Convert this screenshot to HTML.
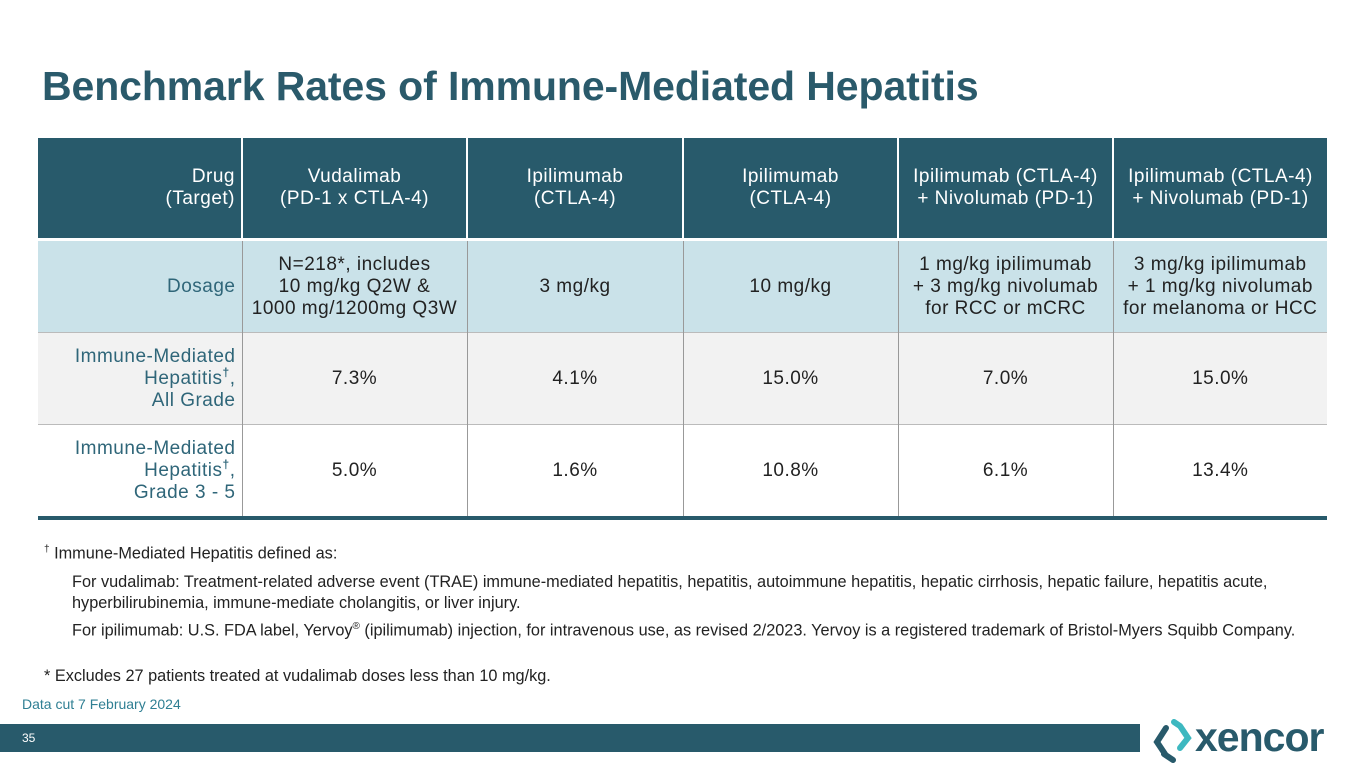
<!DOCTYPE html>
<html><head><meta charset="utf-8"><style>
body{margin:0;width:1365px;height:768px;position:relative;background:#fff;font-family:"Liberation Sans",sans-serif;overflow:hidden}
.a{position:absolute}
.title{left:42px;top:63px;font-size:41px;font-weight:bold;color:#2a5a6b;letter-spacing:-0.1px}
table{position:absolute;left:38px;top:138px;border-collapse:collapse;table-layout:fixed;width:1289px}
td{font-size:19px;text-align:center;color:#222;padding:0 6px;line-height:22px;letter-spacing:0.5px}
tr.h td{background:#285a6b;color:#fff;height:100px;border-left:2px solid #fff}
tr.h td:first-child{border-left:none}
tr.d td{background:#cae2e9;height:91px;border-left:1px solid #999;border-top:3px solid #fff}
tr.r td{background:#f2f2f2;height:91px;border-left:1px solid #999;border-top:1px solid #bbb}
tr.w td{background:#fff;height:91px;border-left:1px solid #999;border-top:1px solid #bbb;border-bottom:4px solid #285a6b}
td.l{text-align:right;color:#2f6679;border-left:none!important}
tr.h td.l{color:#fff}
.fn{font-size:16.3px;color:#222}
</style></head><body>
<div class="a title">Benchmark Rates of Immune-Mediated Hepatitis</div>
<table>
<colgroup><col style="width:204px"><col style="width:225px"><col style="width:216px"><col style="width:215px"><col style="width:215px"><col style="width:214px"></colgroup>
<tr class="h"><td class="l">Drug<br>(Target)</td><td>Vudalimab<br>(PD-1 x CTLA-4)</td><td>Ipilimumab<br>(CTLA-4)</td><td>Ipilimumab<br>(CTLA-4)</td><td style="padding:0 2px">Ipilimumab (CTLA-4)<br>+ Nivolumab (PD-1)</td><td style="padding:0 2px">Ipilimumab (CTLA-4)<br>+ Nivolumab (PD-1)</td></tr>
<tr class="d"><td class="l">Dosage</td><td style="padding:0 2px">N=218*, includes<br>10 mg/kg Q2W &amp;<br>1000 mg/1200mg Q3W</td><td>3 mg/kg</td><td>10 mg/kg</td><td>1 mg/kg ipilimumab<br>+ 3 mg/kg nivolumab<br>for RCC or mCRC</td><td style="padding:0 2px">3 mg/kg ipilimumab<br>+ 1 mg/kg nivolumab<br>for melanoma or HCC</td></tr>
<tr class="r"><td class="l">Immune-Mediated<br>Hepatitis<sup style="font-size:12px;line-height:0;font-weight:bold">†</sup>,<br>All Grade</td><td>7.3%</td><td>4.1%</td><td>15.0%</td><td>7.0%</td><td>15.0%</td></tr>
<tr class="w"><td class="l">Immune-Mediated<br>Hepatitis<sup style="font-size:12px;line-height:0;font-weight:bold">†</sup>,<br>Grade 3 - 5</td><td>5.0%</td><td>1.6%</td><td>10.8%</td><td>6.1%</td><td>13.4%</td></tr>
</table>
<div class="a fn" style="left:44px;top:544px"><sup style="font-size:10px">†</sup> Immune-Mediated Hepatitis defined as:</div>
<div class="a fn" style="left:72px;top:572px;width:1240px;line-height:21px">For vudalimab: Treatment-related adverse event (TRAE) immune-mediated hepatitis, hepatitis, autoimmune hepatitis, hepatic cirrhosis, hepatic failure, hepatitis acute, hyperbilirubinemia, immune-mediate cholangitis, or liver injury.</div>
<div class="a fn" style="left:72px;top:621px">For ipilimumab: U.S. FDA label, Yervoy<sup style="font-size:10px">®</sup> (ipilimumab) injection, for intravenous use, as revised 2/2023. Yervoy is a registered trademark of Bristol-Myers Squibb Company.</div>
<div class="a fn" style="left:44px;top:667px">* Excludes 27 patients treated at vudalimab doses less than 10 mg/kg.</div>
<div class="a" style="left:22px;top:696px;font-size:14px;color:#2f7f93">Data cut 7 February 2024</div>
<div class="a" style="left:0;top:724px;width:1365px;height:28px;background:#285a6b"></div>
<div class="a" style="left:22px;top:731px;font-size:12px;color:#fff">35</div>
<div class="a" style="left:1140px;top:712px;width:225px;height:56px;background:#fff">
<svg class="a" style="left:12px;top:4px" width="46" height="48">
<path d="M14 12 L5 26 L13 38" stroke="#285a6b" stroke-width="6" fill="none" stroke-linecap="round"/>
<path d="M12 38 L21 44" stroke="#285a6b" stroke-width="6" stroke-linecap="round"/>
<path d="M22 6 L28 10 L36 22 L28 32" stroke="#3db8c0" stroke-width="6" fill="none" stroke-linecap="round"/>
</svg>
<div class="a" style="left:55px;top:2px;font-size:41px;font-weight:bold;color:#285a6b;letter-spacing:-1px">xencor</div>
</div>
</body></html>
